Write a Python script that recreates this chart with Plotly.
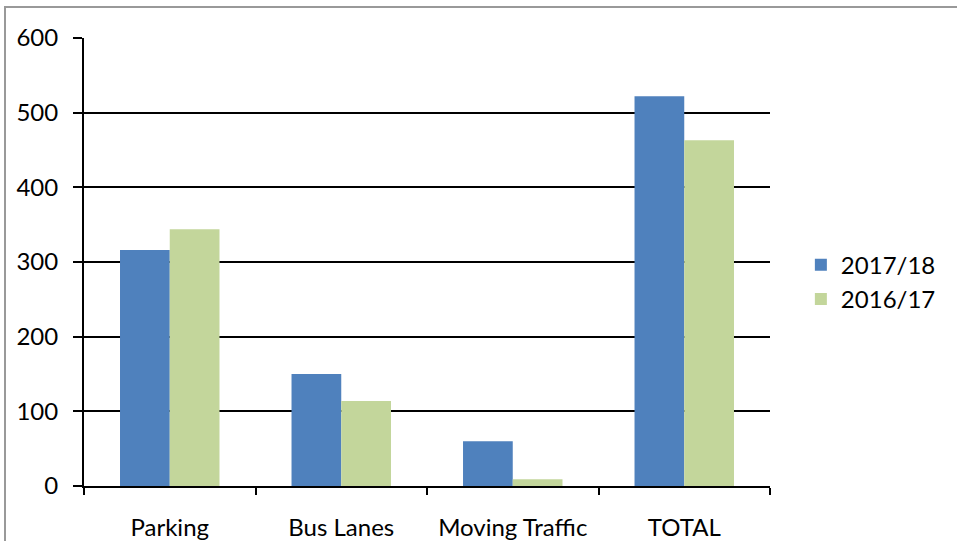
import plotly.graph_objects as go

categories = ["Parking", "Bus Lanes", "Moving Traffic", "TOTAL"]
series_names = ["2017/18", "2016/17"]
values_2017_18 = [316, 150, 60, 522]
values_2016_17 = [344, 114, 9, 463]
y_ticks = [0, 100, 200, 300, 400, 500, 600]

FONT = "Lato"
FS = 24

fig = go.Figure()
fig.add_trace(go.Bar(x=categories, y=values_2017_18, name=series_names[0],
                     marker=dict(color="#4F81BD", line=dict(width=0))))
fig.add_trace(go.Bar(x=categories, y=values_2016_17, name=series_names[1],
                     marker=dict(color="#C3D69B", line=dict(width=0))))

fig.update_layout(
    width=957, height=541,
    margin=dict(l=84, r=187, t=38, b=55),
    paper_bgcolor="white", plot_bgcolor="white",
    barmode="group", bargap=0.42, bargroupgap=0,
    font=dict(family=FONT, size=FS, color="black"),
    legend=dict(x=1.045, y=0.455, xanchor="left", yanchor="middle",
                font=dict(family=FONT, size=FS, color="black"),
                tracegroupgap=6, itemsizing="constant"),
    xaxis=dict(showline=True, linecolor="black", linewidth=2,
               ticks="outside", tickson="boundaries", ticklen=7,
               tickcolor="black", tickwidth=2, showgrid=False,
               ticklabelstandoff=19, automargin=False,
               tickfont=dict(family=FONT, size=FS)),
    yaxis=dict(range=[0, 600], tickvals=y_ticks, showline=True,
               linecolor="black", linewidth=2, ticks="outside", ticklen=9,
               tickcolor="black", tickwidth=2, showgrid=True,
               gridcolor="black", gridwidth=2, zeroline=False,
               ticklabelstandoff=10, automargin=False,
               tickfont=dict(family=FONT, size=FS)),
    shapes=[dict(type="rect", xref="paper", yref="paper",
                 x0=(5 - 84) / 686, x1=(965 - 84) / 686,
                 y0=(486 - 548) / 448, y1=(486 - 7) / 448,
                 line=dict(color="#999999", width=2), layer="below")],
)

fig.write_html("out.html")
